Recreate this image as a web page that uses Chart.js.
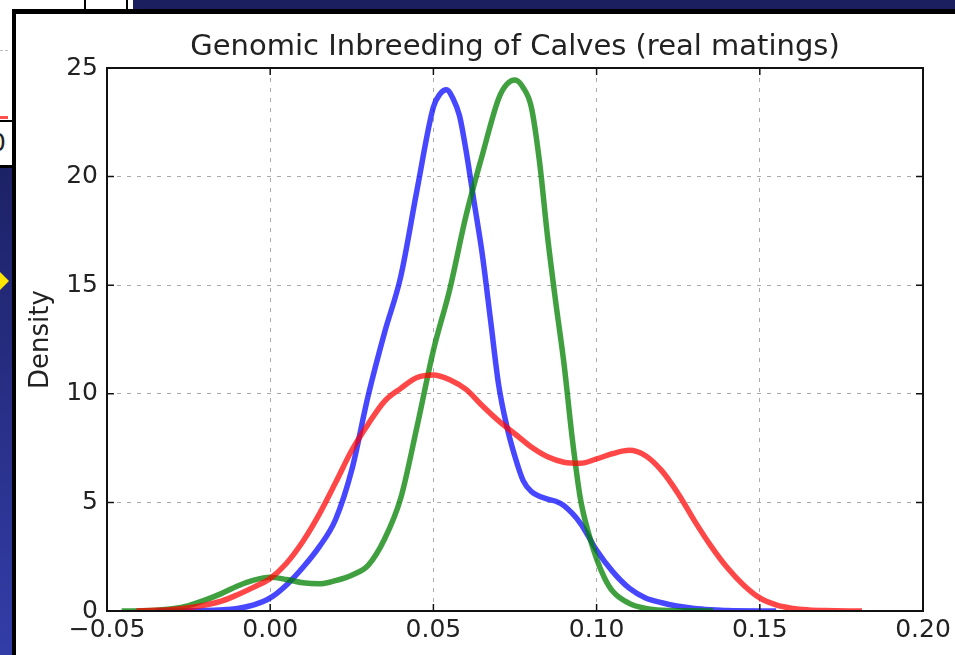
<!DOCTYPE html>
<html>
<head>
<meta charset="utf-8">
<script src="https://cdn.jsdelivr.net/npm/chart.js@4"></script>
<style>
  body { margin: 0; width: 955px; height: 655px; overflow: hidden; background: #fff; position: relative; font-family: "DejaVu Sans", sans-serif; }
  .abs { position: absolute; }
  #topbar { left: 133px; top: 0; width: 822px; height: 10px; background: #1b1f5f; }
  #topbox { left: 84px; top: 0; width: 40px; height: 9px; background: #fff; border-left: 2px solid #000; border-right: 2px solid #000; }
  #frame { left: 12px; top: 9px; width: 939px; height: 641px; border-left: 4px solid #000; border-top: 5px solid #000; background: #fff; }
  #leftgrid { left: 0; top: 50px; width: 8px; border-top: 1px dashed #bbb; }
  #leftred { left: 0; top: 116px; width: 8px; height: 3px; background: #ff5050; }
  #leftbox { left: 0; top: 120px; width: 12px; height: 43px; background: #fff; border-top: 2px solid #000; border-bottom: 3px solid #000; overflow: hidden; }
  #leftbox span { position: absolute; left: -10px; top: 6px; font-size: 25px; color: #222; }
  #leftnavy { left: 0; top: 168px; width: 12px; height: 487px; background: linear-gradient(#1d2266, #333da8); }
  #arrow { left: 0; top: 272px; width: 0; height: 0; border-left: 9px solid #ffe600; border-top: 9px solid transparent; border-bottom: 9px solid transparent; }
  #chart { position: absolute; left: 16px; top: 14px; width: 939px; height: 641px; }
</style>
</head>
<body>
<div class="abs" id="topbar"></div>
<div class="abs" id="topbox"></div>
<div class="abs" id="leftgrid"></div>
<div class="abs" id="leftred"></div>
<div class="abs" id="leftbox"><span>0</span></div>
<div class="abs" id="leftnavy"></div>
<div class="abs" id="arrow"></div>
<div class="abs" id="frame"></div>
<canvas id="chart" width="939" height="641"></canvas>
<script>
// tick values
var xTicks = [-0.05, 0.00, 0.05, 0.10, 0.15, 0.20];
var yTicks = [0, 5, 10, 15, 20, 25];

// blue curve
var xBlue = [-0.035, -0.02, -0.01, -0.005, 0.0, 0.005, 0.01, 0.015, 0.02, 0.025, 0.03, 0.035, 0.04, 0.045, 0.05, 0.052, 0.054, 0.056, 0.058, 0.06, 0.0625, 0.065, 0.0675, 0.07, 0.0725, 0.075, 0.0775, 0.08, 0.085, 0.0875, 0.09, 0.095, 0.1, 0.105, 0.11, 0.115, 0.12, 0.125, 0.13, 0.135, 0.14, 0.155];
var yBlue = [0, 0.02, 0.12, 0.28, 0.6, 1.2, 2.0, 2.95, 4.2, 6.5, 9.9, 12.8, 15.4, 19.4, 23.2, 23.8, 24.0, 23.6, 22.8, 21.2, 18.8, 16.4, 13.4, 10.4, 8.5, 7.1, 6.0, 5.5, 5.15, 5.05, 4.85, 4.05, 2.8, 1.8, 1.05, 0.6, 0.38, 0.22, 0.12, 0.06, 0.02, 0];

// green curve
var xGreen = [-0.0455, -0.035, -0.03, -0.025, -0.02, -0.015, -0.01, -0.005, 0.0, 0.005, 0.01, 0.015, 0.02, 0.025, 0.03, 0.035, 0.04, 0.045, 0.05, 0.055, 0.06, 0.065, 0.07, 0.0725, 0.075, 0.0775, 0.08, 0.0825, 0.085, 0.0875, 0.09, 0.0925, 0.095, 0.0975, 0.1, 0.1025, 0.105, 0.11, 0.115, 0.12, 0.1357];
var yGreen = [0, 0.03, 0.1, 0.25, 0.5, 0.8, 1.15, 1.42, 1.55, 1.45, 1.3, 1.25, 1.4, 1.65, 2.1, 3.3, 5.2, 8.5, 12.0, 14.8, 18.2, 21.0, 23.6, 24.25, 24.45, 24.1, 23.2, 20.7, 17.2, 14.2, 11.4, 8.0, 5.2, 3.6, 2.4, 1.5, 0.9, 0.35, 0.12, 0.04, 0];

// red curve
var xRed = [-0.041, -0.035, -0.03, -0.025, -0.02, -0.015, -0.01, -0.005, 0.0, 0.005, 0.01, 0.015, 0.02, 0.025, 0.03, 0.035, 0.04, 0.045, 0.05, 0.055, 0.06, 0.065, 0.07, 0.075, 0.08, 0.085, 0.09, 0.095, 0.1, 0.105, 0.11, 0.115, 0.12, 0.125, 0.13, 0.135, 0.14, 0.145, 0.15, 0.155, 0.16, 0.165, 0.17, 0.1813];
var yRed = [0, 0.03, 0.07, 0.15, 0.27, 0.45, 0.75, 1.1, 1.5, 2.2, 3.2, 4.45, 5.9, 7.4, 8.6, 9.65, 10.25, 10.75, 10.87, 10.65, 10.2, 9.45, 8.75, 8.15, 7.55, 7.1, 6.85, 6.8, 7.0, 7.25, 7.4, 7.15, 6.45, 5.4, 4.15, 3.0, 2.0, 1.2, 0.6, 0.28, 0.12, 0.05, 0.02, 0];

function pts(xs, ys) {
    return xs.map(function (x, i) { return {x: x, y: ys[i]}; });
}

function line(xs, ys, color) {
    return {
        data: pts(xs, ys),
        borderColor: color,
        borderWidth: 5.5,
        pointRadius: 0,
        fill: false,
        cubicInterpolationMode: 'monotone'
    };
}

// box round the plot and the small inward ticks
var framePlugin = {
    id: 'framePlugin',
    afterDatasetsDraw: function (chart) {
        var ctx = chart.ctx, a = chart.chartArea, sx = chart.scales.x, sy = chart.scales.y;
        ctx.save();
        ctx.strokeStyle = '#111';
        ctx.lineWidth = 1.5;
        ctx.beginPath();
        xTicks.forEach(function (v) {
            var p = sx.getPixelForValue(v);
            ctx.moveTo(p, a.bottom); ctx.lineTo(p, a.bottom - 7);
            ctx.moveTo(p, a.top); ctx.lineTo(p, a.top + 7);
        });
        yTicks.forEach(function (v) {
            var p = sy.getPixelForValue(v);
            ctx.moveTo(a.left, p); ctx.lineTo(a.left + 7, p);
            ctx.moveTo(a.right, p); ctx.lineTo(a.right - 7, p);
        });
        ctx.stroke();
        ctx.lineWidth = 2;
        ctx.strokeRect(a.left, a.top, a.right - a.left, a.bottom - a.top);
        ctx.restore();
    }
};

var font = 'DejaVu Sans';
var ctx = document.getElementById('chart').getContext('2d');
var myChart = new Chart(ctx, {
    type: 'line',
    data: {
        datasets: [
            line(xRed, yRed, 'rgba(255,0,0,0.72)'),
            line(xGreen, yGreen, 'rgba(0,128,0,0.75)'),
            line(xBlue, yBlue, 'rgba(0,0,255,0.72)')
        ]
    },
    plugins: [framePlugin],
    options: {
        responsive: false,
        animation: false,
        devicePixelRatio: 1,
        layout: { padding: { left: 0, right: 32, top: 0, bottom: 0 } },
        plugins: {
            legend: { display: false },
            tooltip: { enabled: false },
            title: {
                display: true,
                fullSize: false,
                text: 'Genomic Inbreeding of Calves (real matings)',
                color: '#222',
                font: { family: font, size: 29, weight: 'normal' },
                padding: { top: 15.6, bottom: 3.6 }
            }
        },
        scales: {
            x: {
                type: 'linear',
                min: -0.05,
                max: 0.2,
                afterBuildTicks: function (s) { s.ticks = xTicks.map(function (v) { return {value: v}; }); },
                afterFit: function (s) { s.height = 44; },
                ticks: {
                    color: '#222',
                    font: { family: font, size: 25 },
                    padding: 4,
                    maxRotation: 0,
                    autoSkip: false,
                    callback: function (v) { return v.toFixed(2).replace('-', '\u2212'); }
                },
                grid: { color: '#aaaaaa', lineWidth: 1, drawTicks: false },
                border: { display: false, dash: [4, 6] }
            },
            y: {
                min: 0,
                max: 25,
                afterBuildTicks: function (s) { s.ticks = yTicks.map(function (v) { return {value: v}; }); },
                afterFit: function (s) { s.width = 91; },
                ticks: {
                    color: '#222',
                    font: { family: font, size: 25 },
                    padding: 9
                },
                grid: { color: '#aaaaaa', lineWidth: 1, drawTicks: false },
                border: { display: false, dash: [4, 6] },
                title: {
                    display: true,
                    text: 'Density',
                    color: '#222',
                    font: { family: font, size: 26 },
                    padding: { top: 10, bottom: 0 }
                }
            }
        }
    }
});
</script>
</body>
</html>
